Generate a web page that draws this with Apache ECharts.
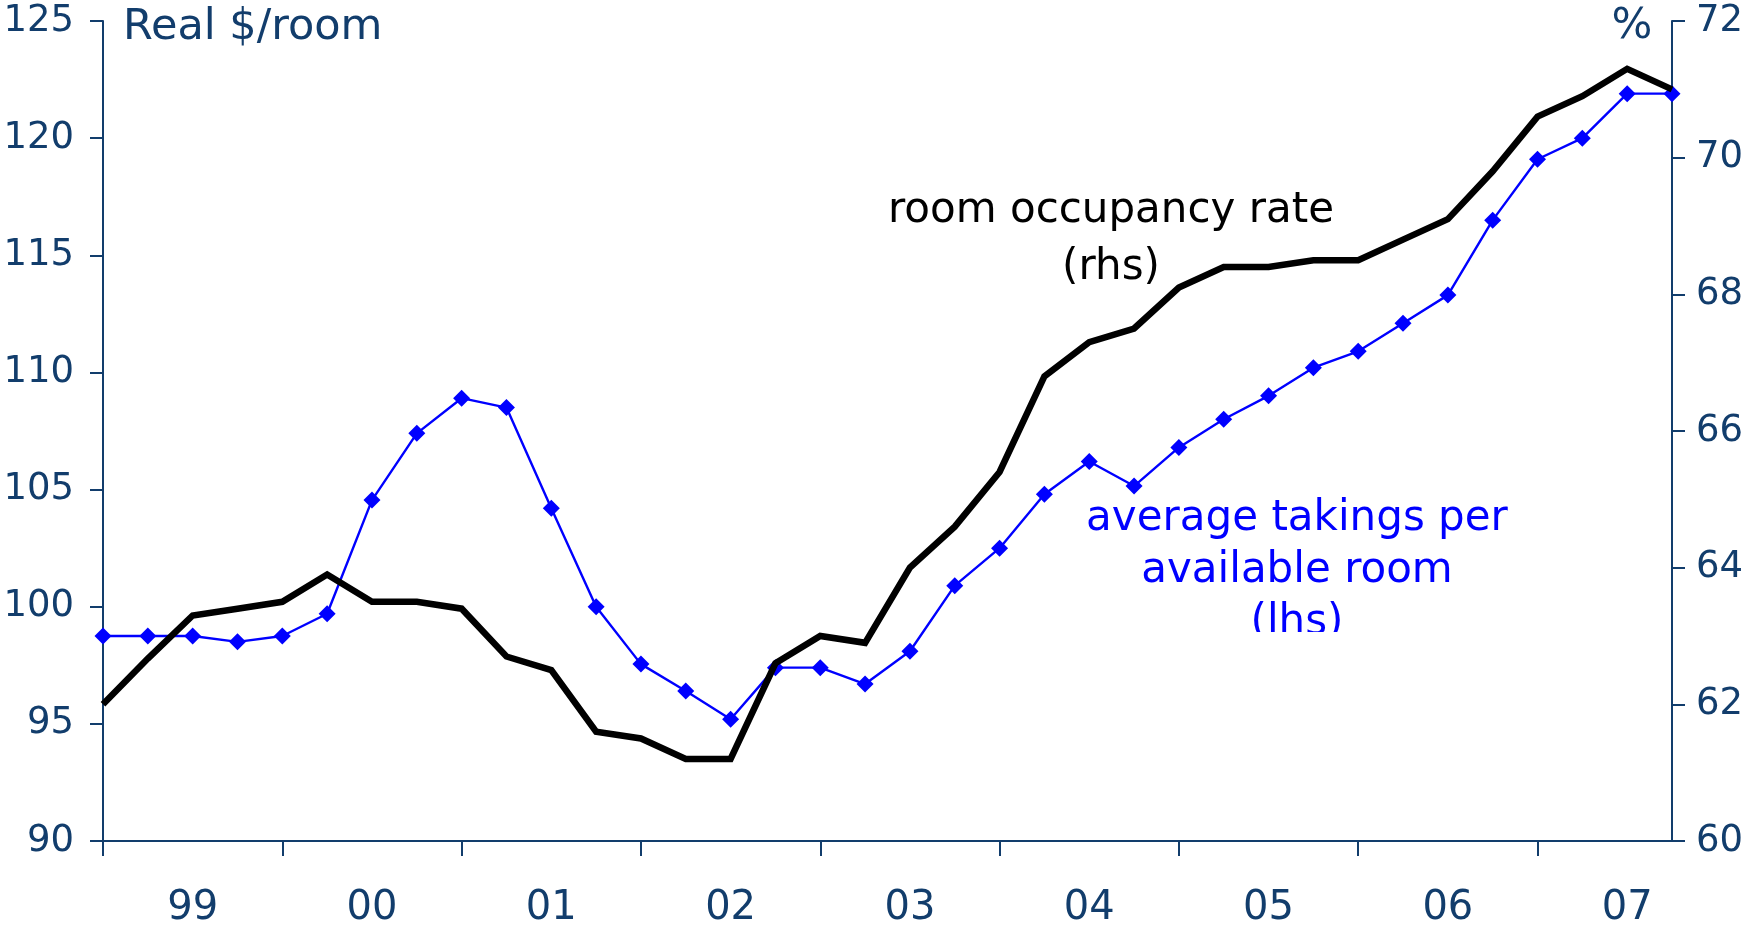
<!DOCTYPE html>
<html>
<head>
<meta charset="utf-8">
<script src="https://cdn.jsdelivr.net/npm/echarts@6/dist/echarts.min.js"></script>
<style>
  html, body { margin: 0; padding: 0; background: #ffffff; }
  #chart { width: 1749px; height: 927px; }
</style>
</head>
<body>
<div id="chart"></div>
<script>
// Quarterly series, 1999 Q1 to 2007 Q4
const years = ['99', '00', '01', '02', '03', '04', '05', '06', '07'];
const quarters = ['Q1', 'Q2', 'Q3', 'Q4'];

// Average takings per available room, real $/room (left axis)
const takings = [
  98.75, 98.75, 98.75, 98.5,
  98.75, 99.7, 104.55, 107.4,
  108.9, 108.5, 104.2, 100.0,
  97.55, 96.4, 95.2, 97.4,
  97.4, 96.7, 98.1, 100.9,
  102.5, 104.8, 106.2, 105.15,
  106.8, 108.0, 109.0, 110.2,
  110.9, 112.1, 113.3, 116.5,
  119.1, 120.0, 121.9, 121.9
];

// Room occupancy rate, % (right axis)
const occupancy = [
  62.0, 62.67, 63.3, 63.4,
  63.5, 63.9, 63.5, 63.5,
  63.4, 62.7, 62.5, 61.6,
  61.5, 61.2, 61.2, 62.6,
  63.0, 62.9, 64.0, 64.6,
  65.4, 66.8, 67.3, 67.5,
  68.1, 68.4, 68.4, 68.5,
  68.5, 68.8, 69.1, 69.8,
  70.6, 70.9, 71.3, 71.0
];

const categories = [];
years.forEach(y => quarters.forEach(q => categories.push(y + ' ' + q)));

const navy = '#123d6c';
const font = '"DejaVu Sans", Verdana, sans-serif';

const chart = echarts.init(document.getElementById('chart'), null, { renderer: 'canvas' });

chart.setOption({
  animation: false,
  backgroundColor: '#ffffff',
  grid: {
    left: 103, right: 77, top: 21, bottom: 86,
    containLabel: false,
    outerBoundsMode: 'none'
  },
  xAxis: {
    type: 'category',
    data: categories,
    boundaryGap: false,
    axisLine: { lineStyle: { color: navy, width: 2 } },
    axisTick: {
      show: true,
      length: 15,
      lineStyle: { color: navy, width: 2 },
      interval: (i) => i % 4 === 0
    },
    axisLabel: {
      interval: (i) => i % 4 === 2,
      formatter: (v) => v.split(' ')[0],
      color: navy,
      fontFamily: font,
      fontSize: 40,
      margin: 48
    },
    splitLine: { show: false }
  },
  yAxis: [
    {
      type: 'value',
      position: 'left',
      min: 90, max: 125, interval: 5,
      axisLine: { show: true, lineStyle: { color: navy, width: 2 } },
      axisTick: { show: true, length: 13, lineStyle: { color: navy, width: 2 } },
      axisLabel: { color: navy, fontFamily: font, fontSize: 37, margin: 29 },
      splitLine: { show: false }
    },
    {
      type: 'value',
      position: 'right',
      min: 60, max: 72, interval: 2,
      axisLine: { show: true, lineStyle: { color: navy, width: 2 } },
      axisTick: { show: true, length: 13, lineStyle: { color: navy, width: 2 } },
      axisLabel: { color: navy, fontFamily: font, fontSize: 37, margin: 24 },
      splitLine: { show: false }
    }
  ],
  series: [
    {
      name: 'average takings per available room (lhs)',
      type: 'line',
      yAxisIndex: 0,
      data: takings,
      clip: false,
      symbol: 'diamond',
      symbolSize: 17,
      showAllSymbol: true,
      lineStyle: { color: '#0000ff', width: 2.4 },
      itemStyle: { color: '#0000ff' },
      z: 2
    },
    {
      name: 'room occupancy rate (rhs)',
      type: 'line',
      yAxisIndex: 1,
      data: occupancy,
      clip: false,
      symbol: 'none',
      lineStyle: { color: '#000000', width: 6.5, join: 'miter' },
      z: 3
    }
  ],
  graphic: [
    {
      type: 'text',
      left: 123, top: 6,
      style: { text: 'Real $/room', fill: navy, font: '43px ' + font }
    },
    {
      type: 'text',
      x: 1632, y: 27,
      style: { text: '%', fill: navy, font: '43px ' + font, textAlign: 'center', textVerticalAlign: 'middle' }
    },
    {
      type: 'text',
      x: 1111, y: 183,
      style: {
        text: 'room occupancy rate\n(rhs)',
        fill: '#000000',
        font: '42px ' + font,
        lineHeight: 57,
        textAlign: 'center',
        textVerticalAlign: 'top'
      },
      z: 10
    },
    {
      type: 'text',
      x: 1297, y: 493,
      style: {
        text: 'average takings per\navailable room\n(lhs)',
        fill: '#0000ff',
        font: '42px ' + font,
        lineHeight: 52,
        textAlign: 'center',
        textVerticalAlign: 'top'
      },
      z: 10
    },
    {
      // the label box ends just under the third line
      type: 'rect',
      shape: { x: 1230, y: 632, width: 140, height: 30 },
      style: { fill: '#ffffff' },
      z: 11
    }
  ]
});
</script>
</body>
</html>
